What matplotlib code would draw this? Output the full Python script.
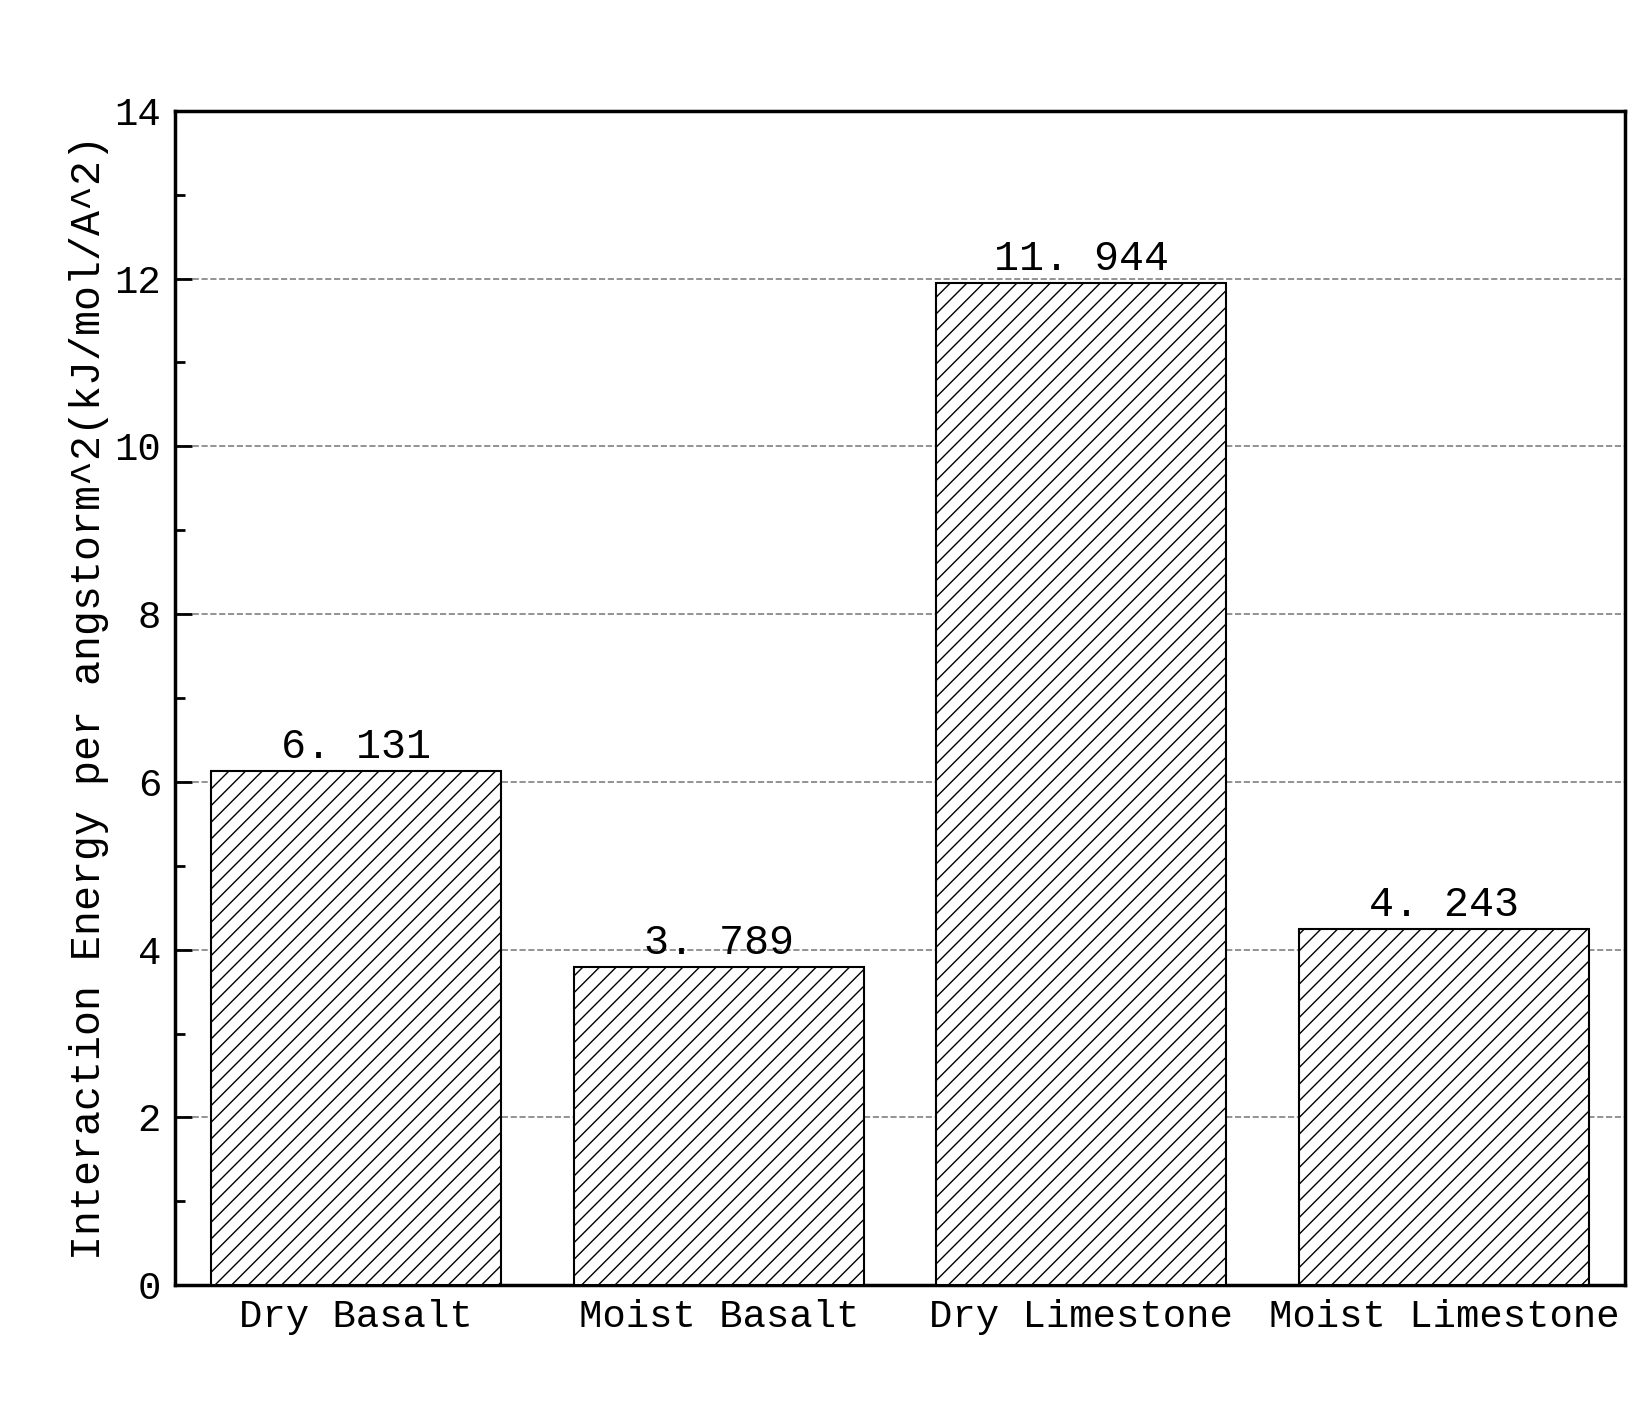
import numpy as np
import matplotlib.pyplot as plt
from matplotlib.ticker import MultipleLocator

categories = ['Dry Basalt', 'Moist Basalt', 'Dry Limestone', 'Moist Limestone']
values = [6.131, 3.789, 11.944, 4.243]
value_labels = ['6. 131', '3. 789', '11. 944', '4. 243']

plt.rcParams['font.family'] = ['Liberation Mono', 'DejaVu Sans Mono']
plt.rcParams['hatch.linewidth'] = 1.0

fig = plt.figure(figsize=(16.5, 14.03), dpi=100)
ax = fig.add_axes([0.106, 0.084, 0.879, 0.837])

x = np.arange(len(categories))
ax.bar(x, values, width=0.8, facecolor='white', edgecolor='black', hatch='//', lw=1.5, zorder=3)
for xi, v, t in zip(x, values, value_labels):
    ax.text(xi, v + 0.05, t, ha='center', va='bottom', fontsize=30, zorder=4)

ax.set_xlim(-0.5, 3.5)
ax.set_ylim(0, 14)
ax.set_xticks(x)
ax.set_xticklabels(categories, fontsize=28)
ax.yaxis.set_major_locator(MultipleLocator(2))
ax.yaxis.set_minor_locator(MultipleLocator(1))
ax.tick_params(axis='both', direction='in', labelsize=28, width=2, length=12, pad=10)
ax.tick_params(axis='y', which='minor', direction='in', width=2, length=7)
ax.grid(axis='y', ls='--', color='grey', lw=1.2, zorder=0)
for s in ax.spines.values():
    s.set_linewidth(2.5)
ax.set_ylabel('Interaction Energy per angstorm^2(kJ/mol/A^2)', fontsize=30)

plt.savefig('out.png')
